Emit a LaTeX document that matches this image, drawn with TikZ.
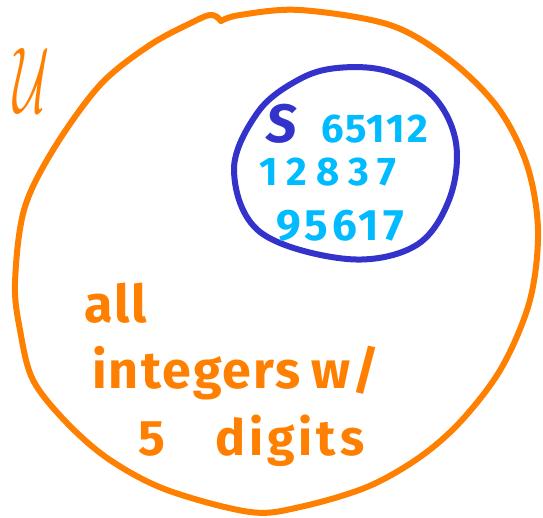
\documentclass[tikz,border=0pt]{standalone}
\usepackage{fontspec}
\usepackage{graphicx}
\setmainfont{Fira Sans}
\newfontfamily\hand{Fira Sans}
\definecolor{uorange}{HTML}{FF8000}
\definecolor{sblue}{HTML}{3333CC}
\definecolor{dblue}{HTML}{00BBFF}
\tikzset{
  outline/.style={line width=6pt, line cap=round, line join=round},
  lbl/.style={inner sep=0pt, anchor=base west},
  uset/.style={outline, draw=uorange},
  sset/.style={outline, draw=sblue},
}
\begin{document}
\begin{tikzpicture}[x=1pt,y=-1pt]
\useasboundingbox (0,0) rectangle (543,518);
% universe
\draw[uset] plot[smooth, tension=0.55] coordinates {
  (221,21) (240,15) (300,10) (390,25) (450,60) (498,108) (527,165) (538,230)
  (530,300) (502,367) (462,420) (420,457) (367,487) (300,507) (250,512)
  (167,490) (110,460) (67,423) (33,380) (20,330) (15,283) (24,210) (53,150)
  (100,85) (150,45) (195,21) (210,15) (217,17)};
\draw[uset] (217,17) -- (221,21);
% set S
\draw[sset] plot[smooth cycle, tension=0.6] coordinates {
  (337,68) (387,71) (433,96) (456,143) (449,200) (415,246) (347,259) (260,232)
  (234,170) (258,112) (298,80)};
% labels
\node[inner sep=0pt, text=uorange] (U) at (32,80) {\resizebox{36pt}{64pt}{$\mathcal{U}$}};
\node[lbl, text=sblue, font=\fontsize{54}{54}\hand\bfseries\itshape] (S) at (266,143) {S};
\node[lbl, text=dblue, font=\fontsize{40}{40}\hand\bfseries\addfontfeatures{LetterSpace=5}] (r1) at (321,143) {65112};
\node[lbl, text=dblue, font=\fontsize{40}{40}\hand\bfseries\addfontfeatures{LetterSpace=22}] (r2) at (259,186) {12837};
\node[lbl, text=dblue, font=\fontsize{44}{44}\hand\bfseries\addfontfeatures{LetterSpace=9}] (r3) at (276,241) {95617};
\node[lbl, text=uorange, font=\fontsize{52}{52}\hand\bfseries\addfontfeatures{LetterSpace=4}] (t1) at (84,323) {all};
\node[lbl, text=uorange, font=\fontsize{52}{52}\hand\bfseries\addfontfeatures{LetterSpace=4}] (t2) at (92,388) {integers\hspace{11pt}w/};
\node[lbl, text=uorange, font=\fontsize{50}{50}\hand\bfseries\addfontfeatures{LetterSpace=8}] (t3) at (138,455) {\makebox[77pt][l]{5}digits};
\end{tikzpicture}
\end{document}
